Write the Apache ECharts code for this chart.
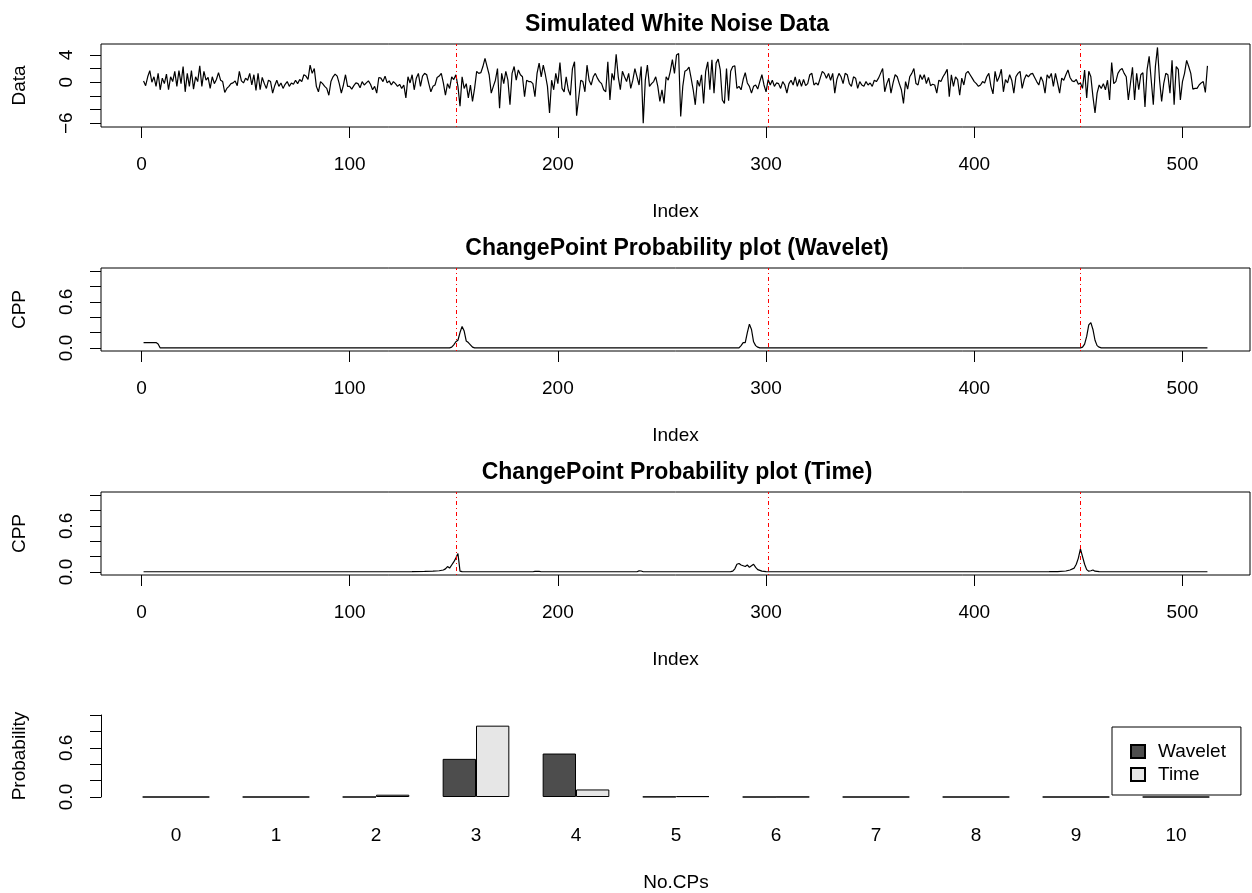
<!DOCTYPE html>
<html>
<head>
<meta charset="utf-8">
<script src="https://cdn.jsdelivr.net/npm/echarts@6/dist/echarts.min.js"></script>
<style>html,body{margin:0;padding:0;background:#fff;}#chart{width:1252px;height:893px;}</style>
</head>
<body>
<div id="chart"></div>
<script>
// ---------------- data ----------------
const noise = [
0.2,-0.5,0.8,1.7,0,0.8,-0.6,1.3,-1.1,0.6,
-0.2,1.2,-1.1,0.8,0.1,1.6,-0.6,1.7,-0.2,2.3,
-1.4,1.3,-0.6,1.7,-1,0.8,0.1,2.4,-0.6,1.6,
0.3,0.7,-0.9,0.8,-0.2,0.4,1.4,0.3,0.1,-1.5,
-0.9,-0.6,-0.2,-0.1,0.2,-0.5,1.6,0.2,-0.1,0.6,
0.3,1.3,-0.4,1.1,-1.2,1.3,-1.1,0.7,-0.2,-0.9,
0.3,0.1,-1.6,-0.5,0.3,-0.6,-0.1,-0.9,-0.3,0.1,
-0.6,-0.1,-0.3,0.3,-0.2,0.4,0.1,1.1,0.9,0.4,
2.5,1.3,2.0,-0.6,-1.4,
0.1,-0.2,-0.6,-0.9,-1.9,0.1,0.8,1.2,0.9,-0.2,
-1.6,-0.4,1.1,-0.6,-0.6,-1,-0.5,-0.1,-0.2,-0.8,
0.1,-0.4,-0.1,0.2,-0.3,-1.1,-0.6,-1.6,0.7,0.6,
0.1,0.9,-0.1,0.2,-0.4,0.1,-0.2,-0.6,-0.3,-0.9,
-0.4,-2.3,0.8,-0.1,1.1,-1.1,0.6,1.3,-0.6,0.9,
1.3,1.1,-0.2,-1.4,-0.6,-0.4,0.7,0.9,1.3,-0.1,
-1.9,-0.2,-0.9,0.8,0.4,
1.1,-0.6,-3.5,0.8,-0.9,-0.2,-2.3,-0.4,-2.8,-0.9,
1.6,1.3,1.4,2.3,3.5,2.3,1.1,-1.6,-0.6,0.3,
2.0,-3.8,1.3,-0.2,
1.6,0.3,-3.3,1.3,2.3,0.3,1.8,1.1,0.8,-2.1,
0.3,0.1,0.1,-0.2,-2.1,1.3,2.8,0.8,2.5,1.1,
-0.6,-4.5,0.3,-1.1,1.3,-0.2,2.9,-0.9,-1.4,0.8,
-1.1,-1.9,2.0,3.0,-4.9,-2.3,0.3,0.1,-1.4,2.5,
0.3,-0.4,0.8,1.3,0.6,0.1,-0.2,-1.1,-1.4,3.0,
-2.6,1.3,0.3,4.1,0.8,-1.1,1.6,0.8,0.1,1.3,
-0.9,0.3,2.0,0.8,-0.4,2.3,-6.0,0.3,2.5,-0.6,
-0.2,0.1,0.8,-0.6,-2.8,-1.1,-3.1,0.8,0.3,1.6,
3.3,1.3,4.0,4.2,-5.0,-0.6,1.6,1.8,
2.2,0.6,-1.1,-3.3,0.3,-0.6,1.1,-3.1,1.6,3.0,
-1.1,3.3,-1.6,2.8,3.4,1.8,-2.6,-3.1,2.0,-2.7,
1.6,2.3,2.4,-0.9,-0.6,-1.1,0.4,1.4,-0.1,-0.6,
-1.6,-0.6,-0.4,-1,0.1,1.1,-0.4,-1.4,
0.4,-0.4,0.3,-0.6,-0.1,-0.2,-0.9,0.1,-0.4,-1.6,
-0.2,0.3,-0.4,0.8,-0.6,0.4,-0.6,0.4,-0.5,-0.2,
1.1,1.3,-0.4,-0.1,-0.4,0.6,1.6,1.3,0.6,1.3,
0.3,1.3,-1.6,0.4,1.3,0.8,-0.2,1.3,1.1,-0.2,
-0.6,0.8,0.6,-0.9,0.1,-0.4,-0.6,0.1,-0.4,-0.1,
-0.6,
0.3,0.1,0.6,1.3,2.0,-1.4,-0.2,0.6,-1.6,-0.1,
1.1,0.8,-0.2,-1.1,-3.1,0.1,-1,0.8,1.3,2.0,
-0.2,-0.4,1.1,0.4,1.1,-0.2,0.7,-0.5,-0.3,-0.4,
-1.6,0.3,0.1,0.8,1.3,1.9,-2.1,1.1,-0.6,0.8,
0.4,-1.9,0.6,-0.4,1.3,1.6,1.1,0.6,0.1,-0.2,
-0.6,-0.4,0.1,-0.1,0.8,1.3,-0.6,-1.7,1.6,0.1,
0.8,1.9,-1.4,0.4,-0.1,1.1,0.3,-1.6,0.8,1.3,
1.6,-0.9,0.4,1.1,0.8,1.2,1.3,0.7,0.1,-0.4,
0.8,0.1,-1.6,1.1,0.6,1.3,-0.6,1.3,-0.1,-1.6,
0.6,0.3,1.1,1.8,0.7,0.2,0.1,0.4,-0.3,-0.1,
-0.9,1.8,-2.3,1.6,0.8,-2.1,-4.5,-1.6,-0.4,-0.9,
-0.2,-1.1,0.3,-2.6,2.9,-0.2,0.1,1.3,1.8,2.0,
1.3,0.8,-2.6,-0.2,2.2,-2.6,1.3,-1.1,1.1,1.4,
-3.6,1.8,3.8,0.3,-3.3,2.3,5.1,0.3,-2.8,-0.2,
1.3,1.1,-1.6,3.2,-3.3,2.3,1.9,-2.6,0.1,1.3,
3.2,2.3,1.3,-1,-0.9,-0.9,-0.4,-0.1,0.1,-1.5,
2.4
];

// change point probability: [index, probability]
const waveletCPP = [[1,0.07],[7,0.07],[8,0.05],[9,0],[148,0],[149,0.01],[150,0.04],[151,0.08],[152,0.1],[153,0.2],[154,0.28],[155,0.22],[156,0.09],[157,0.07],[158,0.04],[159,0.01],[160,0],
[287,0],[288,0.03],[289,0.07],[290,0.07],[291,0.2],[292,0.31],[293,0.24],[294,0.08],[295,0.03],[296,0.01],[297,0],
[451,0],[452,0.01],[453,0.05],[454,0.15],[455,0.3],[456,0.33],[457,0.24],[458,0.1],[459,0.03],[460,0.01],[461,0],[512,0]];

const timeCPP = [[1,0.002],[130,0.003],[136,0.006],[140,0.01],[143,0.015],[145,0.025],[146,0.04],[147,0.07],[148,0.05],[149,0.09],[150,0.13],[151,0.18],[152,0.24],[153,0.01],[154,0.003],
[188,0.002],[189,0.006],[191,0.006],[192,0.002],[238,0.002],[239,0.013],[240,0.012],[241,0.002],
[283,0.003],[284,0.01],[285,0.04],[286,0.1],[287,0.11],[288,0.09],[289,0.08],[290,0.07],[291,0.09],[292,0.06],[293,0.08],[294,0.1],[295,0.06],[296,0.03],[297,0.02],[298,0.01],[300,0.004],[303,0.002],
[436,0.003],[440,0.005],[444,0.012],[446,0.025],[448,0.05],[449,0.1],[450,0.18],[451,0.3],[452,0.2],[453,0.1],[454,0.03],[455,0.01],[456,0.015],[457,0.025],[458,0.01],[460,0.003],[512,0.002]];

const changePoints = [151, 301, 451];

const cpCategories = ['0','1','2','3','4','5','6','7','8','9','10'];
const waveletProb = [0,0,0,0.465,0.53,0.003,0,0,0,0,0];
const timeProb = [0,0,0.028,0.87,0.092,0.01,0.001,0,0,0,0];

const indexTicks = [0,100,200,300,400,500];
const dataTicks = [-6,-4,-2,0,2,4];
const dataTickLabels = [-6,0,4];
const probTicks = [0,0.2,0.4,0.6,0.8,1.0];
const probTickLabels = [0,0.6];

const titles = ['Simulated White Noise Data','ChangePoint Probability plot (Wavelet)','ChangePoint Probability plot (Time)'];

// ---------------- chart ----------------
const FONT = "'Liberation Sans', Arial, Helvetica, sans-serif";
const FS = 19;
const chart = echarts.init(document.getElementById('chart'), null, {renderer:'canvas'});

const boxTops = [44, 268, 492];
const grids = boxTops.map(t => ({left:101, top:t, width:1149, height:83, show:true, borderColor:'#000', borderWidth:1, backgroundColor:'transparent'}));
grids.push({left:126, top:715, width:1100, height:83.5, show:false});

const txt = {color:'#000', fontSize:FS, fontFamily:FONT};

function indexAxis(g){
  return {type:'value', gridIndex:g, min:-19.44, max:532.44,
    axisLine:{show:false, onZero:false},
    axisTick:{show:true, customValues:indexTicks, length:11, lineStyle:{color:'#000', width:1}},
    axisLabel:{show:true, customValues:indexTicks, margin:28, ...txt},
    splitLine:{show:false},
    name:'Index', nameLocation:'middle', nameGap:75, nameTextStyle:{...txt}};
}
function yAx(g, min, max, ticks, labels, fmt, name){
  return {type:'value', gridIndex:g, min:min, max:max,
    axisLine:{show:false, onZero:false},
    axisTick:{show:true, customValues:ticks, length:11, lineStyle:{color:'#000', width:1}},
    axisLabel:{show:true, customValues:labels, rotate:90, margin:25, formatter:fmt, ...txt},
    splitLine:{show:false},
    name:name, nameLocation:'middle', nameGap:72, nameTextStyle:{...txt}};
}
const dataFmt = v => (v < 0 ? '\u2212' : '') + Math.abs(v);
const probFmt = v => Number(v).toFixed(1);

const markLine = {silent:true, symbol:['none','none'], label:{show:false},
  lineStyle:{color:'#ff0000', width:1, type:[1,3,4,3]},
  data: changePoints.map(c => ({xAxis:c}))};

const option = {
  animation:false,
  backgroundColor:'#fff',
  title: titles.map((t,i) => ({text:t, left:672, top:boxTops[i]-36, textAlign:'center',
    textStyle:{color:'#000', fontSize:23, fontWeight:'bold', fontFamily:FONT}})),
  grid: grids,
  legend: {data:['Wavelet','Time'], orient:'vertical', left:1112, top:727,
    itemWidth:14, itemHeight:13, itemGap:4, padding:[15,15,11,18],
    borderColor:'#000', borderWidth:1, backgroundColor:'#fff', borderRadius:0,
    icon:'rect', textStyle:{...txt, padding:[0,0,0,8]}},
  xAxis: [indexAxis(0), indexAxis(1), indexAxis(2),
    {type:'category', gridIndex:3, data:cpCategories, boundaryGap:true,
     axisLine:{show:false}, axisTick:{show:false},
     axisLabel:{margin:29, ...txt},
     name:'No.CPs', nameLocation:'middle', nameGap:76, nameTextStyle:{...txt}}],
  yAxis: [
    yAx(0, -6.55, 5.6, dataTicks, dataTickLabels, dataFmt, 'Data'),
    yAx(1, -0.04, 1.04, probTicks, probTickLabels, probFmt, 'CPP'),
    yAx(2, -0.04, 1.04, probTicks, probTickLabels, probFmt, 'CPP'),
    {type:'value', gridIndex:3, min:0, max:1, offset:25,
     axisLine:{show:true, onZero:false, lineStyle:{color:'#000', width:1}},
     axisTick:{show:true, customValues:probTicks, length:11, lineStyle:{color:'#000', width:1}},
     axisLabel:{show:true, customValues:probTickLabels, rotate:90, margin:25, formatter:probFmt, ...txt},
     splitLine:{show:false},
     name:'Probability', nameLocation:'middle', nameGap:72, nameTextStyle:{...txt}}
  ],
  series: [
    {type:'line', xAxisIndex:0, yAxisIndex:0, data: noise.map((v,i)=>[i+1,v]), showSymbol:false, symbol:'none',
     lineStyle:{color:'#000', width:1.2}, clip:true, markLine:markLine},
    {type:'line', xAxisIndex:1, yAxisIndex:1, data: waveletCPP, showSymbol:false, symbol:'none',
     lineStyle:{color:'#000', width:1.2}, clip:true, markLine:markLine},
    {type:'line', xAxisIndex:2, yAxisIndex:2, data: timeCPP, showSymbol:false, symbol:'none',
     lineStyle:{color:'#000', width:1.2}, clip:true, markLine:markLine},
    {type:'bar', name:'Wavelet', xAxisIndex:3, yAxisIndex:3, data: waveletProb,
     barGap:'0%', barCategoryGap:'33.333%',
     itemStyle:{color:'#4d4d4d', borderColor:'#000', borderWidth:1}},
    {type:'bar', name:'Time', xAxisIndex:3, yAxisIndex:3, data: timeProb,
     barGap:'0%', barCategoryGap:'33.333%',
     itemStyle:{color:'#e6e6e6', borderColor:'#000', borderWidth:1}}
  ]
};
chart.setOption(option);
</script>
</body>
</html>
